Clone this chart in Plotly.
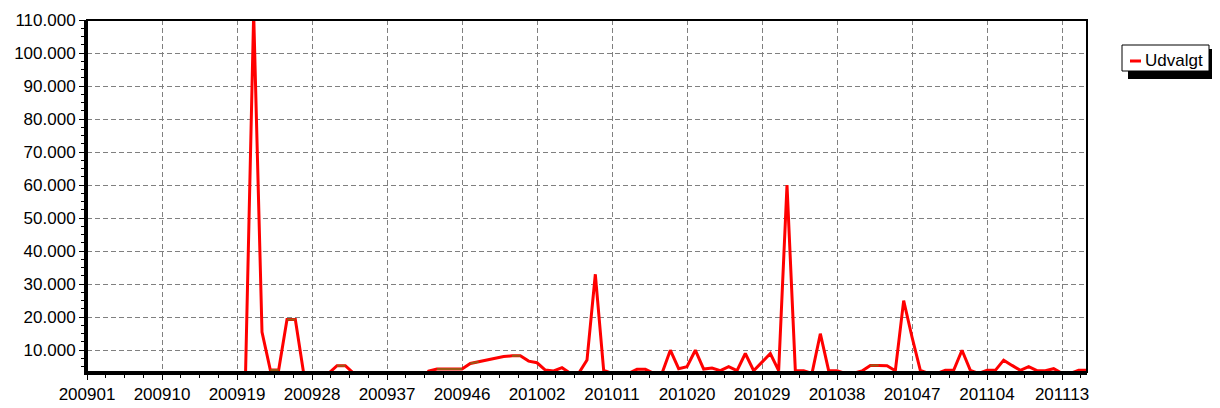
import plotly.graph_objects as go

# ---- data -------------------------------------------------------------
weeks = ([f"2009{w:02d}" for w in range(1, 54)]
         + [f"2010{w:02d}" for w in range(1, 53)]
         + [f"2011{w:02d}" for w in range(1, 17)])

udvalgt = [
    0, 0, 0, 0, 0, 0, 0, 0, 0, 0,                      # 200901-200910
    0, 0, 0, 0, 0, 0, 0, 0, 0, 0,                      # 200911-200920
    112000, 15500, 4000, 4000, 19300, 19300, 3000, 0, 0, 3000,   # 200921-200930
    5300, 5300, 3000, 0, 0, 0, 0, 0, 0, 0,             # 200931-200940
    0, 3700, 4300, 4300, 4300, 4300, 6000, 6500, 7000, 7600,     # 200941-200950
    8100, 8300, 8300,                                  # 200951-200953
    6700, 6200, 4000, 3700, 4700, 3000, 3000, 7000, 33000, 3900,  # 201001-201010
    3000, 0, 3000, 4200, 4200, 3000, 3000, 10000, 4400, 5000,     # 201011-201020
    10000, 4300, 4600, 3800, 5000, 3800, 9000, 3800, 6400, 9000,  # 201021-201030
    3800, 60000, 3800, 3800, 3000, 15000, 3800, 3800, 3000, 3000,  # 201031-201040
    3700, 5400, 5400, 5300, 3800, 25000, 14000, 3900, 3000, 3000,  # 201041-201050
    3900, 3900,                                        # 201051-201052
    10000, 3900, 3000, 3900, 3900, 7000, 5400, 3900, 5000, 3800,  # 201101-201110
    3800, 4400, 3000, 3000, 3900, 3900,                # 201111-201116
]

# index pairs (first, last) where the second (brown) series shows on top
brown_segments = [(22, 23), (24, 25), (30, 31), (42, 45), (46, 47), (51, 52), (94, 95)]

series_name = "Udvalgt"
label_step = 9

# ---- geometry helpers (plot area: 1000 x 352 px at left 87, top 20) ---
L, T, W, H = 87, 20, 1000, 352
FIG_W, FIG_H = 1220, 408


def px(xp):
    return (xp - L) / W


def py(yp):
    return (T + H - yp) / H


# ---- figure -----------------------------------------------------------
xs = list(range(len(weeks)))
tickvals = xs[::label_step]
ticktext = weeks[::label_step]

bx, by = [], []
for a, b in brown_segments:
    for i in range(a, b + 1):
        bx.append(xs[i])
        by.append(udvalgt[i])
    bx.append(None)
    by.append(None)

fig = go.Figure()
fig.add_trace(go.Scatter(
    x=xs, y=udvalgt, mode="lines", name=series_name, showlegend=False,
    line=dict(color="#FF0000", width=3),
    text=weeks, hovertemplate="%{text}: %{y:,d}<extra></extra>",
))
fig.add_trace(go.Scatter(
    x=bx, y=by, mode="lines", showlegend=False, connectgaps=False,
    line=dict(color="#9C5A14", width=2), hoverinfo="skip",
))

fig.update_layout(
    width=FIG_W, height=FIG_H,
    margin=dict(l=L, r=FIG_W - L - W, t=T, b=FIG_H - T - H, autoexpand=False),
    paper_bgcolor="white", plot_bgcolor="white",
    separators=",.",
    font=dict(family="Liberation Sans, Arial, sans-serif", size=17, color="black"),
    showlegend=False,
)

fig.update_xaxes(
    range=[0, len(weeks) - 1], automargin=False,
    tickmode="array", tickvals=tickvals, ticktext=ticktext,
    showgrid=True, gridcolor="#808080", gridwidth=1, griddash="5px,3px",
    showline=True, linecolor="black", linewidth=3,
    ticks="outside", ticklen=5, tickwidth=1, tickcolor="black",
    minor=dict(tickmode="linear", tick0=0, dtick=2.25, ticks="outside",
               ticklen=3, tickwidth=1, tickcolor="black", showgrid=False),
    zeroline=False,
)
fig.update_yaxes(
    range=[3400, 110000], automargin=False,
    tickmode="linear", tick0=0, dtick=10000, tickformat=",d",
    showgrid=True, gridcolor="#808080", gridwidth=1, griddash="5px,3px",
    showline=True, linecolor="black", linewidth=3,
    ticks="outside", ticklen=5, tickwidth=1, tickcolor="black",
    minor=dict(tickmode="linear", tick0=0, dtick=2500, ticks="outside",
               ticklen=3, tickwidth=1, tickcolor="black", showgrid=False),
    zeroline=False,
)

# plot frame (top / right border)
fig.add_shape(type="rect", xref="paper", yref="paper", x0=0, y0=0, x1=1, y1=1,
              line=dict(color="black", width=2), layer="above")

# legend: shadow, box, line sample, label
fig.add_shape(type="rect", xref="paper", yref="paper",
              x0=px(1128), x1=px(1212), y0=py(79), y1=py(49),
              line=dict(width=0), fillcolor="black", layer="above")
fig.add_shape(type="rect", xref="paper", yref="paper",
              x0=px(1122), x1=px(1209), y0=py(71), y1=py(45),
              line=dict(color="black", width=1), fillcolor="white", layer="above")
fig.add_shape(type="line", xref="paper", yref="paper",
              x0=px(1130), x1=px(1141), y0=py(61), y1=py(61),
              line=dict(color="#FF0000", width=3), layer="above")
fig.add_annotation(xref="paper", yref="paper", x=px(1143), y=py(60.5),
                   xanchor="left", yanchor="middle", showarrow=False,
                   text=series_name, font=dict(size=17, color="black"))

fig.write_html("out.html", config={"displayModeBar": False},
               post_script="document.body.style.margin='0px';")
